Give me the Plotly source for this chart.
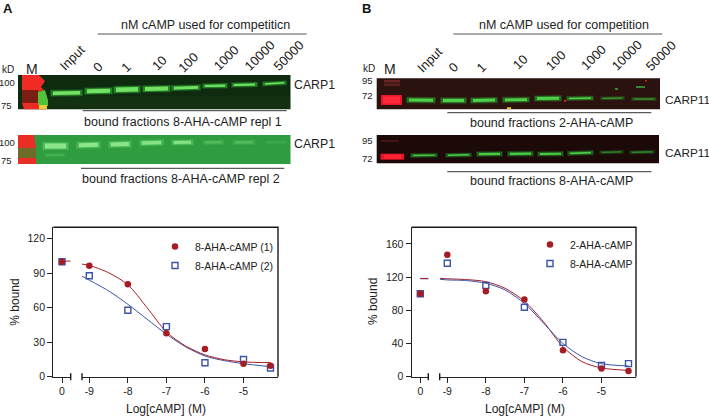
import plotly.graph_objects as go

W, H = 709, 416
FONT = "Liberation Sans"
RED = "#a61c24"
BLUE = "#3b53a8"
INK = "#222222"

# ---------- dose-response data, panel A ----------
dose_log = [-9, -8, -7, -6, -5, -4.3]
a_name1, a_name2 = "8-AHA-cAMP (1)", "8-AHA-cAMP (2)"
a_zero1, a_zero2 = 100, 100
a_pts1 = [96.5, 80.5, 37.8, 24, 11.3, 9.6]
a_pts2 = [87.8, 57.8, 43.6, 12.2, 15, 7.6]
fit_x = [-9.19, -9, -8.5, -8, -7.5, -7, -6.5, -6, -5.5, -5, -4.3]
a_fit1 = [98, 96.8, 90.5, 80, 60, 39, 26.7, 19, 14.8, 12.9, 12.2]
a_fit2 = [87.5, 84, 74.7, 63, 50, 37, 26, 18, 14, 11.3, 8.7]
a_zero_fit = 100.6
a_yticks = [0, 30, 60, 90, 120]

# ---------- dose-response data, panel B ----------
b_name1, b_name2 = "2-AHA-cAMP", "8-AHA-cAMP"
b_zero1, b_zero2 = 100, 100
b_pts1 = [147, 103, 93, 32, 10, 7]
b_pts2 = [136.7, 110, 83.6, 41.4, 13.7, 15.7]
b_fit1 = [118.6, 118, 117, 114.5, 106.5, 91, 66, 36, 18, 10.5, 7.6]
b_fit2 = [117.4, 116.6, 115.8, 112.6, 104.5, 88.4, 64.3, 40, 24, 15.7, 12.9]
b_zero_fit = 118
b_yticks = [0, 40, 80, 120, 160]

x_tick_vals = [-9, -8, -7, -6, -5]
x_tick_text = ["-9", "-8", "-7", "-6", "-5"]
lane_labels = ["Input", "0", "1", "10", "100", "1000", "10000", "50000"]

# ---------- western blot strips: lane (x0, x1, y0, y1, thickness, opacity) ----------
a1_lanes = [(51, 82, 93.2, 92.8, 4.5, 1), (85, 112, 91.2, 90.8, 5, 1), (114, 140, 89.8, 89.2, 5.5, 1),
            (143, 170, 88.9, 88.6, 5, 1), (172, 200, 88.2, 87.4, 3.8, 1), (203, 227, 86, 85.6, 3.2, 1),
            (232, 257, 85, 84.4, 3, 1), (263, 286, 84, 82.8, 2.6, 1)]
a2_lanes = [(43, 68, 146, 146, 6, 1), (77, 100, 145.2, 144.8, 5, 1), (109, 131, 144.6, 144, 5, .95),
            (140, 163, 142.9, 142.5, 4.5, .9), (172, 193, 142.6, 142.2, 4, .9), (203, 224, 142.5, 142.3, 3.5, .3),
            (233, 255, 142.5, 142.2, 3.5, .3), (265, 287, 142.5, 142.3, 3.5, .12), (45, 65, 155.2, 154.8, 2, .3)]
b1_lanes = [(407, 435, 100, 100.3, 4, 1), (441, 466, 100.5, 100.5, 4.2, 1), (471, 497, 100.5, 100.1, 4, 1),
            (503, 529, 99.9, 99.6, 3.8, 1), (535, 561, 98.6, 98.3, 4, 1), (567, 593, 98.5, 98.1, 2.6, 1),
            (601, 624, 98.4, 98, 1.8, .65), (632, 656, 99, 99, 1.7, .65)]
b2_lanes = [(411, 437, 155.5, 155.1, 2.4, 1), (446, 471, 155.3, 154.8, 2.4, 1), (477, 502, 154.1, 153.9, 3.2, 1),
            (508, 533, 153.9, 153.6, 3.2, 1), (538, 563, 153.9, 153.7, 3, 1), (568, 593, 153.4, 152.6, 2.8, 1),
            (600, 623, 152.3, 151.9, 1.8, .6), (630, 654, 152.3, 151.9, 1.8, .65)]


def fx(v):
    return v / W


def fy(v):
    return 1 - v / H


shapes = []
ann = []


def paper_rect(x0, y0, x1, y1, color, opacity=1):
    shapes.append(dict(type="rect", xref="paper", yref="paper", x0=fx(x0), x1=fx(x1), y0=fy(y0), y1=fy(y1),
                       fillcolor=color, opacity=opacity, line=dict(width=0), layer="below"))


def paper_line(x0, y0, x1, y1, color=INK, width=1.0, opacity=1, layer="below"):
    shapes.append(dict(type="line", xref="paper", yref="paper", x0=fx(x0), x1=fx(x1), y0=fy(y0), y1=fy(y1),
                       opacity=opacity, line=dict(color=color, width=width), layer=layer))


def paper_poly(pts, color, opacity=1):
    d = "M " + " L ".join(f"{fx(a):.5f},{fy(b):.5f}" for a, b in pts) + " Z"
    shapes.append(dict(type="path", xref="paper", yref="paper", path=d, fillcolor=color, opacity=opacity,
                       line=dict(width=0), layer="below"))


def band(lane, core, halo):
    x0, x1, y0, y1, th, op = lane
    paper_line(x0 - 1, y0, x1 + 1, y1, halo, th + 2.4, .3 * op)
    paper_line(x0, y0, x1, y1, halo, th + 1, .6 * op)
    paper_line(x0 + 2, y0, x1 - 2, y1, core, max(th - 1, 1), .95 * op)


def text(x, y, s, size=12, anchor="center", angle=0, bold=False, color=INK):
    ann.append(dict(xref="paper", yref="paper", x=fx(x), y=fy(y), text=f"<b>{s}</b>" if bold else s,
                    showarrow=False, xanchor=anchor, yanchor="middle", textangle=angle,
                    font=dict(family=FONT, size=size, color=color)))


# blot A top
paper_rect(18, 75, 290.5, 109.3, "#0e2b0f")
paper_rect(48, 96, 290, 108, "#123413", .7)
paper_poly([(22, 75), (39, 75), (45, 81), (41, 87), (44, 90), (38, 92), (38, 103), (47, 106), (46, 109.3), (24, 109.3), (22, 103)], "#f02a24")
paper_rect(22, 90, 38, 103, "#7a1e12")
paper_poly([(38, 92), (45, 90), (48, 100), (48, 106), (38, 105)], "#55c03a")
paper_rect(39, 105, 47, 109, "#e9d030")
for lane in a1_lanes:
    band(lane, "#78e868", "#2fa533")
# blot A bottom
paper_rect(18, 135, 290.5, 164, "#2f9c40")
paper_poly([(18, 135), (34, 135), (36, 148), (36, 158), (36, 164), (18, 164)], "#e92e26")
paper_rect(18, 148, 36, 158, "#6e6a28")
for lane in a2_lanes:
    band(lane, "#90ea8c", "#5cc863")
# blot B top
paper_rect(376.7, 78.3, 660, 109.3, "#2b120e")
paper_rect(384, 80, 400, 82.5, "#7a2a28", .8)
paper_rect(384, 83.5, 400, 86, "#7a2a28", .6)
paper_line(381, 100, 402, 100, "#e81428", 10)
paper_line(383, 100, 400, 100, "#ff2a3a", 7)
for lane in b1_lanes:
    band(lane, "#52d44c", "#2a8f2a")
paper_rect(507, 107.3, 511, 109, "#e8d020")
paper_rect(564, 100, 566, 102, "#d82020")
paper_rect(636, 86, 645, 88, "#3aa03a", .8)
paper_rect(645, 80, 647, 81.5, "#c82020")
paper_rect(615, 88, 618, 90, "#3aa03a", .8)
# blot B bottom
paper_rect(376.7, 135, 659, 163.3, "#1c0a09")
paper_rect(381, 140, 399, 142, "#4c1616", .8)
paper_line(380.5, 156.7, 404, 156.7, "#e81428", 6)
paper_line(384, 156.7, 401, 156.7, "#ff2535", 4)
for lane in b2_lanes:
    band(lane, "#4ed048", "#25802a")

# panel letters
text(1, 8, "A", 13, "left", bold=True, color="#111111")
text(360, 8, "B", 13, "left", bold=True, color="#111111")

# panel A annotation
text(205, 25, "nM cAMP used for competiticn", 12.5)
paper_line(97.7, 34, 306.7, 34, "#555555", 1)
for s, (x, y) in zip(lane_labels, [(72.7, 58), (97, 67), (126, 68), (158.7, 63), (188, 62), (226.7, 58), (260, 56), (289, 56)]):
    text(x, y, s, 13, angle=-45)
text(8.3, 69.3, "kD", 10)
text(32.3, 69, "M", 14)
text(16.5, 82.3, "100", 9.5, "right")
text(14, 105.3, "75", 9.5, "right")
text(16.5, 142.7, "100", 9.5, "right")
text(14, 160.7, "75", 9.5, "right")
text(291.7, 85.3, "CARP1", 12.3, "left")
text(291.7, 144.3, "CARP1", 12.3, "left")
paper_line(82.7, 110.7, 286.7, 110.7, "#333333", 1)
text(183.3, 122.3, "bound fractions 8-AHA-cAMP repl 1", 12.5)
paper_line(81, 168.3, 284.3, 168.3, "#333333", 1)
text(181, 179, "bound fractions 8-AHA-cAMP repl 2", 12.5)

# panel B annotation
text(564, 25, "nM cAMP used for competition", 12.5)
paper_line(453.3, 34, 662.3, 34, "#555555", 1)
for s, (x, y) in zip(lane_labels, [(430, 59.3), (453.3, 67.7), (481.7, 67.7), (519.7, 62.3), (555.7, 60.7), (593.3, 57.3), (626.7, 55.7), (661.3, 56)]):
    text(x, y, s, 13, angle=-45)
text(369, 69, "kD", 10)
text(389.7, 69, "M", 14)
text(374.7, 81, "95", 9.5, "right")
text(374.7, 95.7, "72", 9.5, "right")
text(374.7, 140, "95", 9.5, "right")
text(374.7, 158.3, "72", 9.5, "right")
text(662.7, 100, "CARP11", 11.8, "left")
text(662.7, 152.7, "CARP11", 11.8, "left")
paper_line(447.3, 112.7, 651.3, 112.7, "#333333", 1)
text(551.7, 122.7, "bound fractions 2-AHA-cAMP", 12.5)
paper_line(447.3, 171.7, 651.3, 171.7, "#333333", 1)
text(551, 181.3, "bound fractions 8-AHA-cAMP", 12.5)

# axis titles
text(15, 301.7, "% bound", 12, angle=-90)
text(373, 301, "% bound", 12, angle=-90)
text(165.8, 409, "Log[cAMP] (M)", 12)
text(524.7, 409, "Log[cAMP] (M)", 12)

TOP, BOT = 227.3, 376.7
frames = [(53.3, 70.7, 82, 278), (411.7, 428.3, 439.7, 636)]

fig = go.Figure()


def line_trace(x, y, color, xa, ya):
    fig.add_trace(go.Scatter(x=x, y=y, mode="lines", line=dict(color=color, width=1, shape="spline", smoothing=0.8),
                             xaxis=xa, yaxis=ya, showlegend=False, hoverinfo="skip", cliponaxis=False))


def pts(x, y, name, kind, xa, ya, legend=None):
    if kind == "circle":
        m = dict(symbol="circle", size=6.5, color=RED, line=dict(width=0))
    else:
        m = dict(symbol="square-open", size=6, color=BLUE, line=dict(width=1.4, color=BLUE))
    fig.add_trace(go.Scatter(x=x, y=y, mode="markers", marker=m, name=name, xaxis=xa, yaxis=ya,
                             showlegend=legend is not None, legend=legend or "legend",
                             cliponaxis=False))


# panel A
line_trace([0, 0.225], [a_zero_fit, a_zero_fit], RED, "x", "y")
line_trace(fit_x, a_fit2, BLUE, "x2", "y")
line_trace(fit_x, a_fit1, RED, "x2", "y")
pts([0], [a_zero2], a_name2, "square", "x", "y")
pts([0], [a_zero1], a_name1, "circle", "x", "y")
pts(dose_log, a_pts2, a_name2, "square", "x2", "y", "legend")
pts(dose_log, a_pts1, a_name1, "circle", "x2", "y", "legend")

# panel B
line_trace([0, 0.3], [b_zero_fit, b_zero_fit], BLUE, "x3", "y2")
line_trace([0, 0.3], [b_zero_fit + 0.4, b_zero_fit + 0.4], RED, "x3", "y2")
line_trace(fit_x, b_fit1, RED, "x4", "y2")
line_trace(fit_x, b_fit2, BLUE, "x4", "y2")
pts([0], [b_zero2], b_name2, "square", "x3", "y2")
pts([0], [b_zero1], b_name1, "circle", "x3", "y2")
pts(dose_log, b_pts2, b_name2, "square", "x4", "y2", "legend2")
pts(dose_log, b_pts1, b_name1, "circle", "x4", "y2", "legend2")

# plot frames and axis-break marks, on a full-page overlay axis measured in page pixels
for left, gap0, gap1, right in frames:
    fig.add_trace(go.Scatter(
        x=[left, right, right, None, gap0, gap0, None, gap1, gap1],
        y=[TOP, TOP, BOT, None, BOT - 3.5, BOT + 3.5, None, BOT - 3.5, BOT + 3.5],
        mode="lines", line=dict(color="#1a1a1a", width=1.4), xaxis="x5", yaxis="y3",
        showlegend=False, hoverinfo="skip", cliponaxis=False))

ax_common = dict(showgrid=False, zeroline=False, showline=True, linecolor=INK, linewidth=1.3, ticks="outside",
                 ticklen=5, tickwidth=1.2, tickcolor=INK, tickfont=dict(family=FONT, size=10.5, color=INK))
PX = 38.55
dom_y = [fy(BOT), fy(TOP)]


def seg_axes(left, gap0, gap1, right, zero_px, minus9_px):
    zr = [(left - zero_px) / PX, (gap0 - zero_px) / PX]
    lr = [-9 + (gap1 - minus9_px) / PX, -9 + (right - minus9_px) / PX]
    return (dict(domain=[fx(left), fx(gap0)], range=zr, tickvals=[0], ticktext=["0"], **ax_common),
            dict(domain=[fx(gap1), fx(right)], range=lr, tickvals=x_tick_vals, ticktext=x_tick_text, **ax_common))


x1, x2 = seg_axes(53.3, 70.7, 82, 278, 62, 89.3)
x3, x4 = seg_axes(411.7, 428.3, 439.7, 636, 420.3, 447.3)


def leg(x, y):
    return dict(x=fx(x), y=fy(y), xanchor="left", yanchor="top", bgcolor="rgba(0,0,0,0)", itemwidth=30,
                traceorder="reversed", font=dict(family=FONT, size=10.5, color=INK), itemclick=False)


fig.update_layout(
    width=W, height=H, margin=dict(l=0, r=0, t=0, b=0, autoexpand=False), paper_bgcolor="white", plot_bgcolor="rgba(0,0,0,0)",
    shapes=shapes, annotations=ann, font=dict(family=FONT),
    xaxis=dict(anchor="y", **x1), xaxis2=dict(anchor="y", **x2),
    xaxis3=dict(anchor="y2", **x3), xaxis4=dict(anchor="y2", **x4),
    xaxis5=dict(domain=[0, 1], range=[0, W], visible=False, anchor="y3"),
    yaxis=dict(anchor="x", domain=dom_y, range=[0, 130], tickvals=a_yticks, **ax_common),
    yaxis2=dict(anchor="x3", domain=dom_y, range=[0, 180], tickvals=b_yticks, **ax_common),
    yaxis3=dict(domain=[0, 1], range=[H, 0], visible=False, anchor="x5"),
    legend=leg(155, 232), legend2=leg(530, 230),
)
fig.write_html("out.html", post_script="document.body.style.margin='0';", config=dict(displayModeBar=False))
